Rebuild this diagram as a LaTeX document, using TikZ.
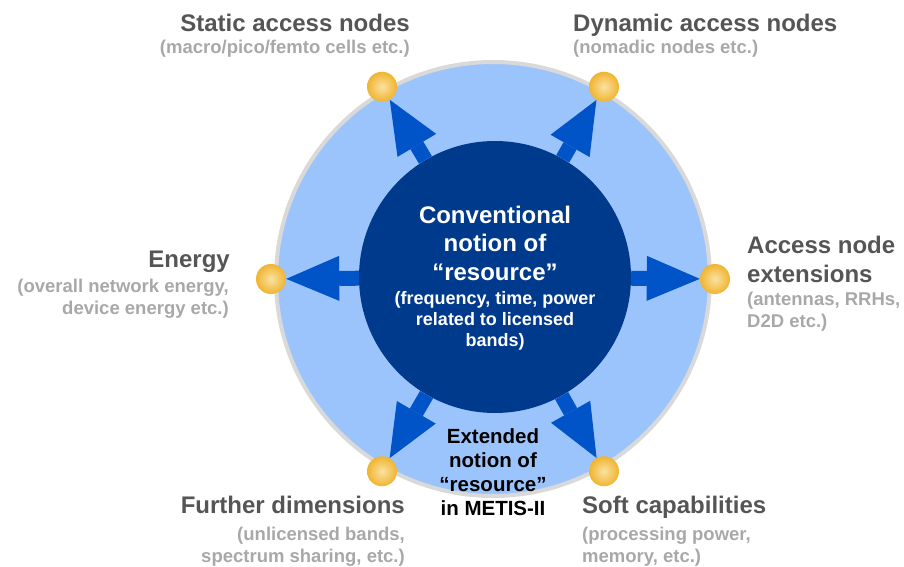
\documentclass[tikz,border=0pt]{standalone}
\usepackage{fontspec}
\setmainfont{Liberation Sans}
\usetikzlibrary{arrows.meta}

\definecolor{ringblue}{HTML}{9CC4FC}
\definecolor{ringgray}{HTML}{D9D9D9}
\definecolor{corenavy}{HTML}{003A8C}
\definecolor{spokeblue}{HTML}{0054C8}
\definecolor{dotlight}{HTML}{FAE2A2}
\definecolor{dotdark}{HTML}{F0B430}
\definecolor{ttlgray}{HTML}{555555}
\definecolor{subgray}{HTML}{A8A8A8}

\tikzset{
  dot/.style={circle, minimum size=30pt, inner sep=0pt, shading=radial,
    inner color=dotlight, outer color=dotdark},
  spoke/.style={spokeblue, line width=15pt,
    -{Triangle[length=53pt, width=45pt, line width=0pt]}},
  ttl/.style={font=\fontsize{24}{29}\selectfont\bfseries, text=ttlgray, inner sep=0pt},
  sub/.style={font=\fontsize{18.5}{22}\selectfont\bfseries, text=subgray, inner sep=0pt},
  coretxt/.style={font=\fontsize{24}{28.5}\selectfont\bfseries, text=white, inner sep=0pt, align=center},
  coresub/.style={font=\fontsize{18}{21}\selectfont\bfseries, text=white, inner sep=0pt, align=center},
  ext/.style={font=\fontsize{20.5}{24}\selectfont\bfseries, text=black, inner sep=0pt, align=center}
}

\begin{document}
\begin{tikzpicture}[x=1pt, y=-1pt]
    \useasboundingbox (0,0) rectangle (904,567);
    % Rings
    \node[circle, draw=ringgray, line width=4pt, fill=ringblue, minimum size=434pt,
      inner sep=0pt, outer sep=5pt] (ring) at (493,279) {};
    \node[circle, fill=corenavy, minimum size=272pt, inner sep=0pt] (core) at (495,277) {};

    % Dots on the ring
    \foreach \ang/\nm in {0/acc, 60/dyn, 120/sta, 180/ene, 240/fur, 300/sof} {
        \node[dot] (\nm) at (ring.\ang) {};
        \draw[spoke] (core) -- (\nm); % Spoke
    }

    % Labels (base = last line)
    \node[coretxt, anchor=base] (coreT) at (495,280) {Conventional\\notion of\\“resource”};
    \node[coresub, anchor=base] (coreS) at (495,346) {(frequency, time, power\\related to licensed\\bands)};
    \node[ext, anchor=base] (extT) at (493,515) {Extended\\notion of\\“resource”\\in METIS-II};

    \node[ttl, anchor=base east] (staT) at (410,32) {Static access nodes};
    \node[sub, anchor=base east] (staS) at (410,54) {(macro/pico/femto cells etc.)};
    \node[ttl, anchor=base west] (dynT) at (573,32) {Dynamic access nodes};
    \node[sub, anchor=base west] (dynS) at (573,54) {(nomadic nodes etc.)};

    \node[ttl, anchor=base east] (eneT) at (230,267) {Energy};
    \node[sub, anchor=base east, align=right] (eneS) at (229,314) {(overall network energy,\\device energy etc.)};
    \node[ttl, anchor=base west, align=left] (accT) at (747,282) {Access node\\extensions};
    \node[sub, anchor=base west, align=left] (accS) at (747,327) {(antennas, RRHs,\\D2D etc.)};

    \node[ttl, anchor=base east] (furT) at (405,513) {Further dimensions};
    \node[sub, anchor=base east, align=right] (furS) at (405,562) {(unlicensed bands,\\spectrum sharing, etc.)};
    \node[ttl, anchor=base west] (sofT) at (582,513) {Soft capabilities};
    \node[sub, anchor=base west, align=left] (sofS) at (582,562) {(processing power,\\memory, etc.)};
\end{tikzpicture}
\end{document}
